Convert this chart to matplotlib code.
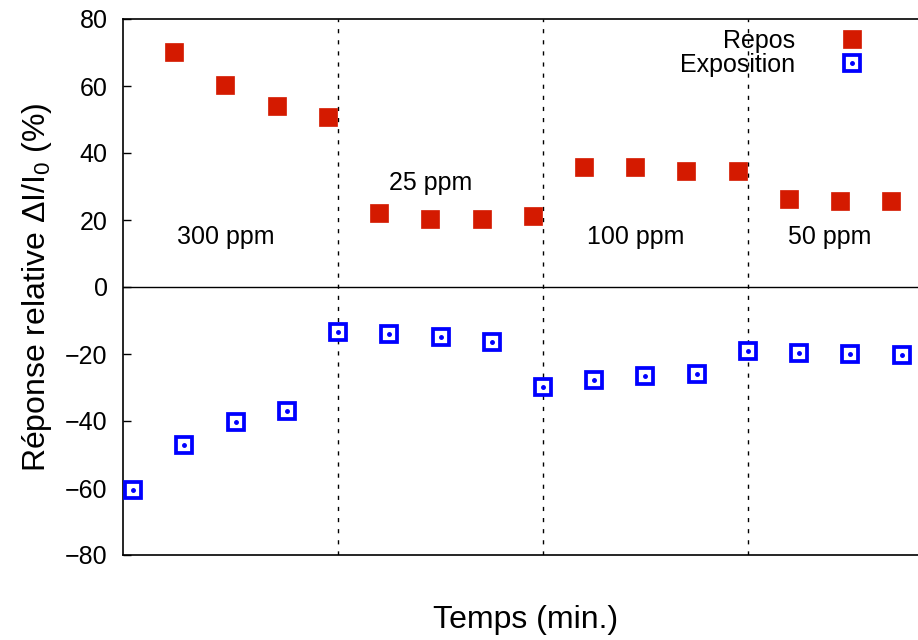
import matplotlib
matplotlib.use("Agg")
import matplotlib.pyplot as plt
import numpy as np

plt.rcParams['font.family'] = ['Liberation Sans', 'DejaVu Sans']
plt.rcParams['mathtext.fontset'] = 'custom'
plt.rcParams['mathtext.rm'] = 'Liberation Sans'
plt.rcParams['mathtext.it'] = 'Liberation Sans'

# data (x = step index)
repos = [70.1, 60.3, 54.0, 50.7, 22.1, 20.3, 20.3, 21.2,
         35.8, 35.8, 34.6, 34.6, 26.3, 25.7, 25.7]
expo = [-60.6, -47.2, -40.3, -37.0, -13.4, -14.0, -14.9, -16.4,
        -29.9, -27.8, -26.6, -26.0, -19.1, -19.7, -20.0, -20.3]
switches = [4, 8, 12]
zones = ['300 ppm', '25 ppm', '100 ppm', '50 ppm']
zone_x = [1.8, 5.8, 9.8, 13.6]
zone_y = [14.8, 31, 14.8, 14.8]
yticks = [-80, -60, -40, -20, 0, 20, 40, 60, 80]

red = '#d41a00'
blue = '#0000ff'

x_expo = np.arange(len(expo))
x_repos = np.arange(len(repos)) + 0.8

fig = plt.figure(figsize=(9.18, 6.4), dpi=100)
ax = fig.add_axes([123/918, 1 - 555/640, 1 - 123/918 + 0.01, (555 - 19)/640])

for s in switches:
    ax.axvline(s, color='black', ls=(0, (3, 5)), lw=1.0, zorder=1)
ax.axhline(0, color='black', lw=1.0, zorder=1)

h_r, = ax.plot(x_repos, repos, 's', color=red, ms=12.5, mec=red, mew=0.5, ls='none', zorder=3)
h_b, = ax.plot(x_expo, expo, 's', mfc='white', mec=blue, ms=12, mew=2.7, ls='none', zorder=3)
h_d, = ax.plot(x_expo, expo, 'o', color=blue, ms=2.5, ls='none', zorder=4)

for lab, xx, yy in zip(zones, zone_x, zone_y):
    ax.text(xx, yy, lab, ha='center', va='center', fontsize=18)

leg = ax.legend([h_r, (h_b, h_d)], ['Repos', 'Exposition'], loc='upper right',
                bbox_to_anchor=(0.935, 1.0), frameon=False, markerfirst=False,
                fontsize=18, handlelength=1.0, handletextpad=1.8, labelspacing=0.0,
                borderaxespad=0.0)

ax.set_xlim(-0.2, 15.5)
ax.set_ylim(-80, 80)
ax.set_yticks(yticks)
ax.set_xticks([])
ax.tick_params(axis='y', direction='in', length=6, width=1, labelsize=18, pad=11)
ax.spines['right'].set_visible(False)
for sp in ['left', 'top', 'bottom']:
    ax.spines[sp].set_linewidth(1.2)

ax.set_ylabel(r'Réponse relative $\Delta$I/I$_0$ (%)', fontsize=23, labelpad=8)
ax.set_xlabel('Temps (min.)', fontsize=23, labelpad=36)

fig.savefig('out.png', dpi=100)
